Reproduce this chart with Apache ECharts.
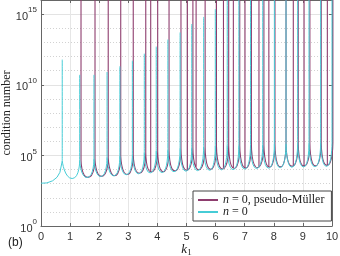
<!DOCTYPE html>
<html><head><meta charset="utf-8">
<script src="https://cdn.jsdelivr.net/npm/echarts@6/dist/echarts.min.js"></script>
<style>html,body{margin:0;padding:0;background:#fff}#c{width:340px;height:256px}</style>
</head><body><div id="c"></div><script>
// ---- axis ticks ----
const xTicks = [0,1,2,3,4,5,6,7,8,9,10];
const yTickExp = [0,5,10,15];      // labelled decades (log10 of condition number)
const yMaxExp = 16;

// ---- "n = 0" (cyan); all values are log10(condition number) ----
const cyanStartK = [0, 0.2, 0.4, 0.55, 0.65];
const cyanStartV = [3.03, 3.05, 3.2, 3.45, 3.8];
const cyanSpikeK   = [0.73,1.33,1.82,2.27,2.71,3.14,3.55,3.96,4.36,4.78,5.18,5.59,5.99,6.40,6.80,7.20,7.62,8.02,8.42,8.82,9.21,9.61,10.0];
const cyanSpikeTop = [11.78,10.7,10.7,10.9,11.3,11.7,12.2,12.7,13.2,13.7,14.3,14.8,15.35,17,17,17,17,17,17,17,17,17,17];
const cyanFoot     = [4.6,4.65,4.75,4.85,4.95,5.05,5.2,5.3,5.4,5.5,5.55,5.6,5.65,5.7,5.7,5.75,5.75,5.8,5.8,5.85,5.85,5.9,5.9];
const cyanMinK = [1.07,1.58,2.05,2.50,2.93,3.35,3.75,4.16,4.57,4.98,5.38,5.79,6.20,6.60,7.00,7.41,7.82,8.22,8.62,9.02,9.41,9.81];
const cyanMinV = [3.36,3.43,3.50,3.55,3.63,3.70,3.76,3.78,3.84,3.88,3.92,3.95,3.98,4.00,4.04,4.07,4.10,4.13,4.16,4.18,4.20,4.22];

// ---- "n = 0, pseudo-Müller" (purple) ----
const purpleSpikeK = [1.375,1.856,2.31,2.74,3.17,3.60,4.01,4.40,4.81,5.22,5.64,6.03,6.45,6.83,7.23,7.66,8.04,8.42,8.84,9.24,9.63,10.03];
const purpleFoot   = [4.65,4.75,4.85,4.95,5.05,5.2,5.3,5.4,5.5,5.55,5.6,5.65,5.7,5.7,5.75,5.75,5.8,5.8,5.85,5.85,5.9,5.9];
const purpleMinK = [1.61,2.08,2.53,2.96,3.38,3.79,4.20,4.60,5.01,5.42,5.83,6.24,6.64,7.03,7.44,7.85,8.23,8.63,9.04,9.43,9.83];
const purpleMinV = [3.44,3.51,3.56,3.65,3.73,3.82,3.84,3.90,3.94,3.98,4.01,4.04,4.07,4.10,4.13,4.16,4.19,4.22,4.24,4.26,4.28];
const purpleExtraK    = [3.77,5.03,5.33,6.27,6.61,7.01,7.49,7.83,8.67,9.04,9.84];
const purpleExtraBase = [3.85,3.96,4.2,4.06,4.1,4.12,4.15,4.18,4.25,4.26,4.3];
const purpleTop = 17;   // spikes run off the top of the axes

const CYAN = '#46ccd6', PURP = '#8e3d6e', AX = '#666';
const GAP = ['-','-'];

function buildArcs(spK, foot, minK, minV){
  const d = [];
  for (let i = 0; i < minK.length; i++) {
    d.push([spK[i], foot[i]], [minK[i], minV[i]], [spK[i+1], foot[i+1]], GAP);
  }
  return d;
}
const cyanData = buildArcs(cyanSpikeK, cyanFoot, cyanMinK, cyanMinV);
cyanSpikeK.forEach((k,i)=>cyanData.push([k, cyanFoot[i]], [k, cyanSpikeTop[i]], GAP));
const cyanStart = cyanStartK.map((k,i)=>[k, cyanStartV[i]]).concat([[cyanSpikeK[0], cyanFoot[0]]]);

const purpData = buildArcs(purpleSpikeK, purpleFoot, purpleMinK, purpleMinV);
purpleSpikeK.forEach((k,i)=>purpData.push([k, purpleFoot[i]], [k, purpleTop], GAP));
purpleExtraK.forEach((k,i)=>purpData.push([k, purpleExtraBase[i]], [k, purpleTop], GAP));

const N1 = 'n = 0, pseudo-Müller', N2 = 'n = 0';
const serif = 'Liberation Serif';
const sans = 'Liberation Sans';

const chart = echarts.init(document.getElementById('c'), null, {renderer:'canvas'});
chart.setOption({
  animation: false,
  backgroundColor: '#fff',
  grid: {left: 41, right: 8, top: 0, bottom: 30, containLabel: false, outerBoundsMode: 'none'},
  xAxis: [
    {type:'value', min: xTicks[0], max: xTicks[xTicks.length-1], interval: 1, position:'bottom',
     axisLine:{show:true, onZero:false, lineStyle:{color:AX, width:1}},
     axisTick:{show:true, inside:true, length:3, lineStyle:{color:AX}},
     axisLabel:{color:'#333', fontFamily:sans, fontSize:11, margin:5},
     splitLine:{show:true, lineStyle:{color:'#e6e6e6', width:1}},
     name:'{k|k}{s|1}', nameLocation:'middle', nameGap:17, nameMoveOverlap:false,
     nameTextStyle:{color:'#222', rich:{
       k:{fontFamily:serif, fontStyle:'italic', fontSize:13, lineHeight:14, verticalAlign:'top'},
       s:{fontFamily:serif, fontSize:9, lineHeight:9, verticalAlign:'bottom'}}}},
    {type:'value', min: xTicks[0], max: xTicks[xTicks.length-1], interval: 1, position:'top',
     axisLine:{show:true, onZero:false, lineStyle:{color:AX, width:1}},
     axisTick:{show:true, inside:true, length:3, lineStyle:{color:AX}},
     axisLabel:{show:false}, splitLine:{show:false}}
  ],
  yAxis: [
    {type:'value', min:0, max:yMaxExp, interval:1, position:'left',
     axisLine:{show:false}, axisTick:{show:false}, axisLabel:{show:false},
     splitLine:{show:true, lineStyle:{color:'#d2d2d2', width:1, type:[1,2]}}},
    {type:'value', min:0, max:yMaxExp, interval:5, position:'left',
     axisLine:{show:true, onZero:false, lineStyle:{color:AX, width:1}},
     axisTick:{show:true, inside:true, length:3, lineStyle:{color:AX}},
     axisLabel:{margin:4, showMaxLabel:false,
       formatter: v => (yTickExp.indexOf(v) >= 0 ? '{b|10}{s|' + v + '}' : ''),
       rich:{
         b:{fontFamily:sans, fontSize:11, color:'#333', lineHeight:16, verticalAlign:'bottom'},
         s:{fontFamily:sans, fontSize:8, color:'#333', lineHeight:8, verticalAlign:'top'}}},
     splitLine:{show:true, lineStyle:{color:'#e3e3e3', width:1}},
     name:'condition number', nameLocation:'middle', nameGap:28, nameMoveOverlap:false,
     nameTextStyle:{fontFamily:serif, fontSize:12, color:'#222'}},
    {type:'value', min:0, max:yMaxExp, interval:5, position:'right',
     axisLine:{show:true, onZero:false, lineStyle:{color:AX, width:1}},
     axisTick:{show:true, inside:true, length:3, lineStyle:{color:AX}},
     axisLabel:{show:false}, splitLine:{show:false}}
  ],
  legend: {
    data:[N1, N2], orient:'vertical', left:193, top:191,
    padding:[3,7,3,4], itemGap:0, itemWidth:20, itemHeight:11,
    itemStyle:{opacity:0},
    backgroundColor:'#fff', borderColor:'#444', borderWidth:1, borderRadius:0,
    formatter: name => name.replace(/^n/, '{i|n}'),
    textStyle:{fontFamily:serif, fontSize:12, color:'#222',
      rich:{i:{fontFamily:serif, fontStyle:'italic', fontSize:12, color:'#222'}}}
  },
  graphic: [{type:'text', left:8, top:237, style:{text:'(b)', font:'12px "Liberation Sans"', fill:'#222'}}],
  series: [
    {name:N1, type:'line', xAxisIndex:0, yAxisIndex:1, data:purpData, smooth:1,
     symbol:'none', connectNulls:false, clip:true, lineStyle:{color:PURP, width:1.1}, itemStyle:{color:PURP}},
    {name:N2, type:'line', xAxisIndex:0, yAxisIndex:1, data:cyanData, smooth:1,
     symbol:'none', connectNulls:false, clip:true, lineStyle:{color:CYAN, width:1}, itemStyle:{color:CYAN}},
    {name:N2, type:'line', xAxisIndex:0, yAxisIndex:1, data:cyanStart, smooth:false,
     symbol:'none', clip:true, lineStyle:{color:CYAN, width:1}, itemStyle:{color:CYAN}}
  ]
});
</script></body></html>
